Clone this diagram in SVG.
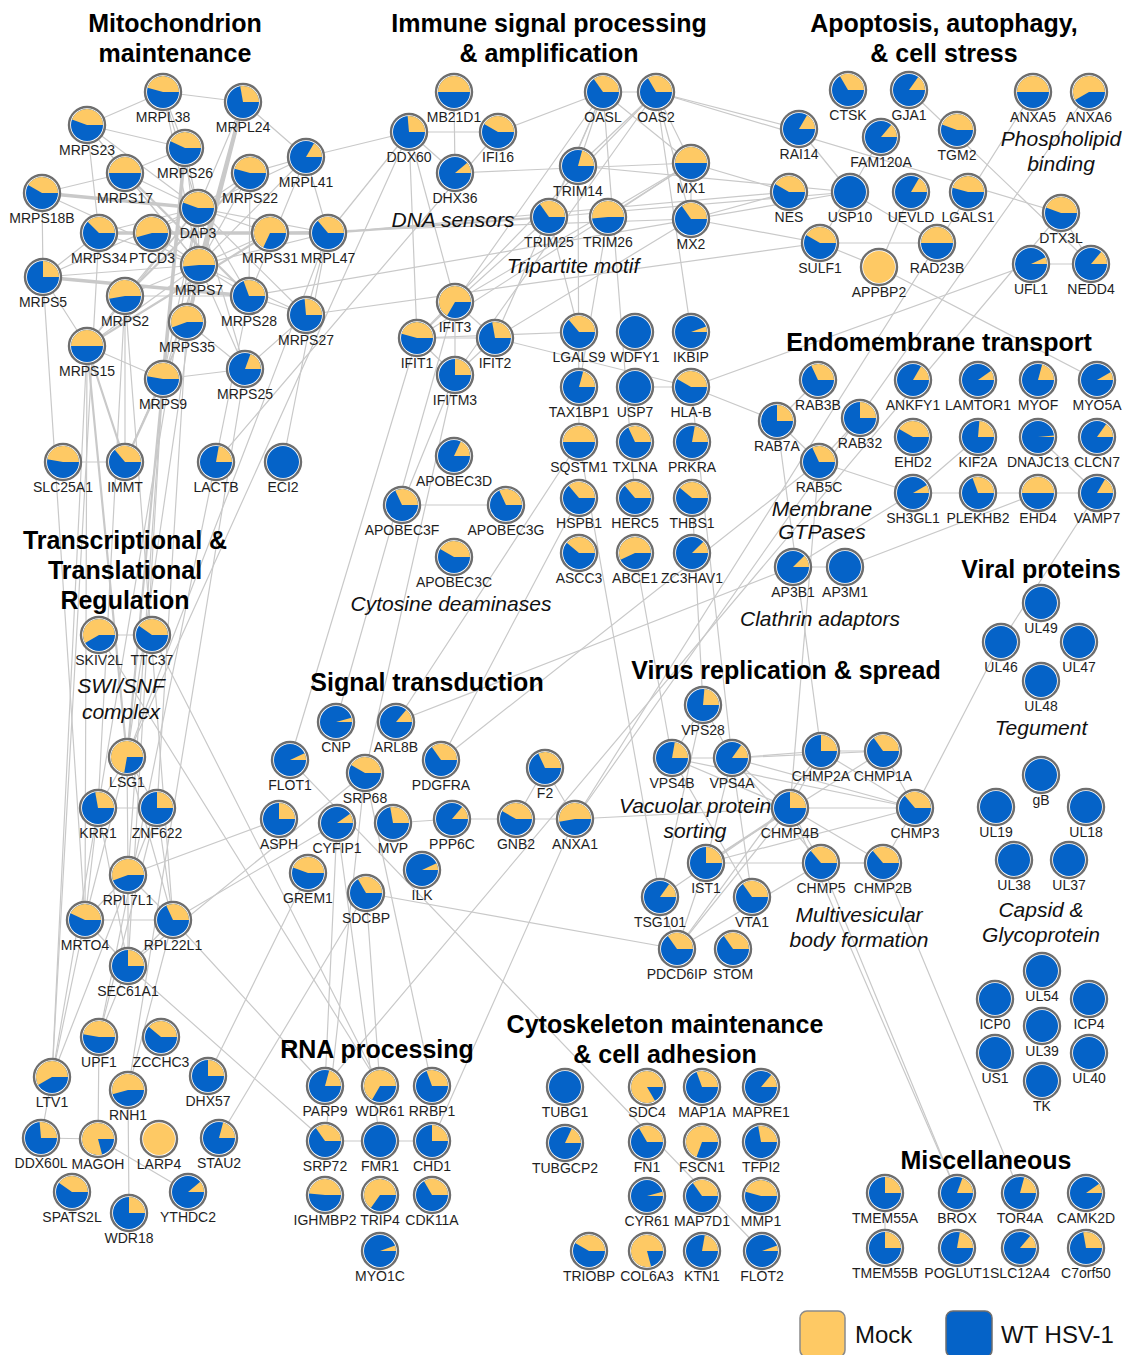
<svg xmlns="http://www.w3.org/2000/svg" width="1124" height="1355" viewBox="0 0 1124 1355">
<style>
.r{fill:#fff;stroke:#6e6e6e;stroke-width:2.4}
.w{fill:#0563c8}
.m{fill:#fec964}
#nodes text{font-family:"Liberation Sans",Arial,sans-serif;font-size:14px;fill:#1e1e1e;text-anchor:middle}
.t{font-family:"Liberation Sans",Arial,sans-serif;font-size:25px;font-weight:bold;fill:#000;text-anchor:middle}
.s{font-family:"Liberation Sans",Arial,sans-serif;font-size:21px;font-style:italic;fill:#111;text-anchor:middle}
.lg{font-family:"Liberation Sans",Arial,sans-serif;font-size:24px;fill:#111}
</style>
<rect width="1124" height="1355" fill="#fff"/>
<g id="connectors" fill="none" stroke="#c9c9c9" stroke-width="1.2" stroke-linecap="round">
<path d="M198 208 163 92"/><path d="M198 208 243 102"/><path d="M198 208 87 125"/><path d="M198 208 185 148"/><path d="M198 208 125 173"/><path d="M198 208 306 157"/><path d="M198 208 250 173"/><path d="M198 208 99 233"/><path d="M198 208 152 233"/><path d="M198 208 270 233"/><path d="M198 208 328 233"/><path d="M198 208 199 265"/><path d="M198 208 43 277"/><path d="M198 208 125 296"/><path d="M198 208 249 296"/><path d="M198 208 306 315"/><path d="M198 208 187 322"/><path d="M198 208 87 346"/><path d="M198 208 163 379"/><path d="M198 208 245 369"/>
<path d="M199 265 163 92"/><path d="M199 265 87 125"/><path d="M199 265 185 148"/><path d="M199 265 125 173"/><path d="M199 265 306 157"/><path d="M199 265 250 173"/><path d="M199 265 42 193"/><path d="M199 265 99 233"/><path d="M199 265 152 233"/><path d="M199 265 270 233"/><path d="M199 265 328 233"/><path d="M199 265 43 277"/><path d="M199 265 125 296"/><path d="M199 265 249 296"/><path d="M199 265 306 315"/><path d="M199 265 187 322"/><path d="M199 265 87 346"/><path d="M199 265 163 379"/><path d="M199 265 245 369"/>
<path d="M163 92 243 102"/><path d="M87 125 125 173"/><path d="M42 193 43 277"/><path d="M42 193 125 173"/><path d="M306 157 328 233"/><path d="M306 157 250 173"/><path d="M125 296 87 346"/><path d="M43 277 87 346"/><path d="M249 296 306 315"/><path d="M245 369 163 379"/><path d="M187 322 245 369"/><path d="M249 296 250 173"/><path d="M185 148 125 173"/><path d="M87 125 163 92"/><path d="M87 125 99 233"/><path d="M243 102 306 157"/><path d="M43 277 99 233"/><path d="M306 315 245 369"/><path d="M125 296 249 296"/><path d="M163 92 185 148"/><path d="M306 157 249 296"/><path d="M87 125 185 148"/><path d="M87 346 163 379"/><path d="M328 233 306 315"/><path d="M187 322 163 379"/>
<path d="M125 296 125 462"/><path d="M187 322 125 462"/><path d="M125 296 98 808"/><path d="M187 322 157 808"/><path d="M163 379 128 875"/><path d="M87 346 85 920"/><path d="M125 296 173 920"/><path d="M163 379 128 966"/><path d="M87 346 52 1077"/><path d="M199 265 127 757"/><path d="M198 208 98 808"/><path d="M43 277 85 920"/><path d="M99 233 52 1077"/><path d="M249 296 99 1037"/><path d="M245 369 128 1090"/><path d="M125 462 63 462"/>
<path d="M127 757 98 808"/><path d="M127 757 157 808"/><path d="M127 757 128 875"/><path d="M127 757 85 920"/><path d="M127 757 173 920"/><path d="M98 808 157 808"/><path d="M98 808 85 920"/><path d="M157 808 173 920"/><path d="M128 875 85 920"/><path d="M128 875 173 920"/><path d="M85 920 173 920"/><path d="M85 920 128 966"/><path d="M173 920 128 966"/><path d="M128 875 128 966"/><path d="M85 920 52 1077"/><path d="M98 808 52 1077"/><path d="M157 808 52 1077"/><path d="M128 966 99 1037"/><path d="M173 920 128 1090"/><path d="M128 1090 129 1213"/><path d="M99 1037 98 1139"/><path d="M41 1138 98 1139"/><path d="M98 1139 188 1192"/><path d="M52 1077 41 1138"/><path d="M157 808 99 1037"/><path d="M98 808 128 966"/>
<path d="M128 966 325 1141"/><path d="M173 920 325 1086"/><path d="M128 875 279 819"/><path d="M128 966 365 773"/><path d="M173 920 337 823"/><path d="M208 1076 308 873"/><path d="M219 1138 366 893"/><path d="M152 635 380 1086"/><path d="M99 635 380 1086"/><path d="M99 635 152 635"/><path d="M328 233 127 757"/><path d="M409 132 127 757"/><path d="M216 462 498 132"/><path d="M283 462 328 233"/>
<path d="M454 92 455 173"/><path d="M409 132 498 132"/><path d="M409 132 455 173"/><path d="M498 132 603 92"/><path d="M455 173 691 163"/><path d="M603 92 656 92"/><path d="M603 92 578 166"/><path d="M656 92 578 166"/><path d="M603 92 549 217"/><path d="M656 92 691 163"/><path d="M656 92 691 219"/><path d="M603 92 691 163"/><path d="M608 217 691 163"/><path d="M691 163 691 219"/>
<path d="M417 338 455 302"/><path d="M417 338 495 338"/><path d="M455 302 495 338"/><path d="M417 338 455 375"/><path d="M455 302 455 375"/><path d="M495 338 455 375"/><path d="M417 338 691 163"/><path d="M417 338 656 92"/><path d="M455 302 603 92"/><path d="M455 302 691 163"/><path d="M495 338 603 92"/><path d="M495 338 691 219"/><path d="M455 375 656 92"/><path d="M455 302 549 217"/><path d="M409 132 417 338"/><path d="M409 132 455 302"/><path d="M409 132 328 233"/><path d="M409 132 306 157"/><path d="M417 338 579 332"/><path d="M495 338 691 387"/><path d="M579 332 549 217"/><path d="M579 387 608 217"/><path d="M635 387 691 387"/><path d="M691 332 656 92"/><path d="M635 498 603 92"/><path d="M579 442 578 166"/><path d="M455 375 402 505"/><path d="M417 338 290 760"/><path d="M455 302 336 722"/><path d="M455 375 365 773"/><path d="M402 505 506 505"/>
<path d="M691 163 789 192"/><path d="M691 219 789 192"/><path d="M691 219 820 243"/><path d="M549 217 850 192"/><path d="M656 92 799 129"/><path d="M656 92 1061 213"/><path d="M578 166 850 192"/><path d="M328 233 789 192"/><path d="M306 315 820 243"/><path d="M249 296 850 192"/><path d="M270 233 691 219"/>
<path d="M799 129 850 192"/><path d="M850 192 937 243"/><path d="M820 243 937 243"/><path d="M820 243 879 267"/><path d="M850 192 820 243"/><path d="M911 192 879 267"/><path d="M909 90 1091 264"/><path d="M879 267 1097 380"/><path d="M1031 264 1091 264"/><path d="M1061 213 1091 264"/><path d="M1033 92 575 819"/><path d="M1089 92 575 819"/><path d="M881 137 850 192"/><path d="M1031 264 691 387"/>
<path d="M818 380 777 421"/><path d="M777 421 819 462"/><path d="M860 418 819 462"/><path d="M819 462 913 493"/><path d="M913 493 978 493"/><path d="M978 493 1038 493"/><path d="M1038 493 1097 493"/><path d="M913 493 978 437"/><path d="M1038 437 1097 493"/><path d="M793 567 845 567"/><path d="M845 567 1038 493"/><path d="M793 567 913 493"/><path d="M777 421 821 751"/><path d="M819 462 790 808"/><path d="M1097 493 1001 642"/><path d="M1001 642 915 808"/><path d="M777 421 691 387"/><path d="M396 722 793 567"/><path d="M441 760 819 462"/>
<path d="M703 705 672 758"/><path d="M703 705 732 758"/><path d="M672 758 732 758"/><path d="M732 758 821 751"/><path d="M732 758 883 751"/><path d="M732 758 790 808"/><path d="M732 758 915 808"/><path d="M672 758 790 808"/><path d="M672 758 915 808"/><path d="M821 751 883 751"/><path d="M790 808 915 808"/><path d="M821 863 883 863"/><path d="M706 863 883 751"/><path d="M706 863 790 808"/><path d="M677 949 790 808"/><path d="M677 949 660 897"/><path d="M660 897 703 705"/><path d="M752 897 732 758"/><path d="M752 897 672 758"/><path d="M706 863 732 758"/><path d="M790 808 821 751"/><path d="M821 751 915 808"/><path d="M677 949 821 751"/><path d="M706 863 883 863"/><path d="M821 863 732 758"/><path d="M915 808 883 863"/><path d="M883 751 915 808"/><path d="M790 808 883 863"/><path d="M790 808 821 863"/><path d="M706 863 915 808"/><path d="M677 949 821 863"/><path d="M677 949 706 863"/><path d="M660 897 790 808"/>
<path d="M575 819 790 808"/><path d="M790 808 957 1193"/><path d="M821 863 957 1193"/><path d="M883 863 1020 1193"/><path d="M885 1193 885 1248"/><path d="M366 893 677 949"/><path d="M660 897 579 442"/><path d="M672 758 635 553"/><path d="M691 387 732 758"/><path d="M692 498 703 705"/><path d="M579 498 441 760"/><path d="M579 442 396 722"/>
<path d="M545 768 575 819"/><path d="M545 768 516 819"/><path d="M393 823 452 819"/><path d="M452 819 516 819"/><path d="M516 819 575 819"/><path d="M365 773 325 1141"/><path d="M337 823 380 1141"/><path d="M290 760 762 1251"/><path d="M325 1141 380 1141"/><path d="M380 1141 432 1141"/><path d="M325 1086 1061 213"/><path d="M432 1141 575 819"/><path d="M365 773 432 1086"/><path d="M366 893 380 1086"/><path d="M337 823 325 1086"/>
<g stroke-width="2.2"><path d="M125 173 249 296"/><path d="M250 173 125 296"/><path d="M328 233 549 217"/><path d="M270 233 87 346"/><path d="M87 346 125 462"/><path d="M163 379 125 462"/><path d="M87 346 127 757"/><path d="M163 379 127 757"/></g>
<g stroke-width="3.6"><path d="M243 102 199 265"/><path d="M185 148 163 379"/><path d="M99 233 328 233"/><path d="M42 193 198 208"/><path d="M43 277 249 296"/><path d="M243 102 187 322"/></g>
</g>
<g id="titles">
<text class="t" x="175" y="32">Mitochondrion</text><text class="t" x="175" y="62">maintenance</text>
<text class="t" x="549" y="32">Immune signal processing</text><text class="t" x="549" y="62">&amp; amplification</text>
<text class="t" x="944" y="32">Apoptosis, autophagy,</text><text class="t" x="944" y="62">&amp; cell stress</text>
<text class="t" x="939" y="351">Endomembrane transport</text>
<text class="t" x="125" y="549">Transcriptional &amp;</text><text class="t" x="125" y="579">Translational</text><text class="t" x="125" y="609">Regulation</text>
<text class="t" x="427" y="691">Signal transduction</text>
<text class="t" x="786" y="679">Virus replication &amp; spread</text>
<text class="t" x="1041" y="578">Viral proteins</text>
<text class="t" x="377" y="1058">RNA processing</text>
<text class="t" x="665" y="1033">Cytoskeleton maintenance</text><text class="t" x="665" y="1063">&amp; cell adhesion</text>
<text class="t" x="986" y="1169">Miscellaneous</text>
<text class="s" x="453" y="227">DNA sensors</text>
<text class="s" x="573" y="273">Tripartite motif</text>
<text class="s" x="1061" y="146">Phospholipid</text><text class="s" x="1061" y="171">binding</text>
<text class="s" x="451" y="611">Cytosine deaminases</text>
<text class="s" x="121" y="693">SWI/SNF</text><text class="s" x="121" y="719">complex</text>
<text class="s" x="822" y="516">Membrane</text><text class="s" x="822" y="539">GTPases</text>
<text class="s" x="820" y="626">Clathrin adaptors</text>
<text class="s" x="1041" y="735">Tegument</text>
<text class="s" x="695" y="813">Vacuolar protein</text><text class="s" x="695" y="838">sorting</text>
<text class="s" x="859" y="922">Multivesicular</text><text class="s" x="859" y="947">body formation</text>
<text class="s" x="1041" y="917">Capsid &amp;</text><text class="s" x="1041" y="942">Glycoprotein</text>
</g>
<g id="nodes">
<g id="n-MRPL38" transform="translate(163 92)"><circle class="r" r="18"/><circle class="w" r="16"/><path class="m" d="M0 0H16A16 16 0 0 0-15.45-4.14Z"/><text y="30">MRPL38</text></g>
<g id="n-MRPL24" transform="translate(243 102)"><circle class="r" r="18"/><circle class="w" r="16"/><path class="m" d="M0 0H16A16 16 0 0 0-2.78-15.76Z"/><text y="30">MRPL24</text></g>
<g id="n-MRPS23" transform="translate(87 125)"><circle class="r" r="18"/><circle class="w" r="16"/><path class="m" d="M0 0H16A16 16 0 0 0-15.04-5.47Z"/><text y="30">MRPS23</text></g>
<g id="n-MRPS26" transform="translate(185 148)"><circle class="r" r="18"/><circle class="w" r="16"/><path class="m" d="M0 0H16A16 16 0 0 0-14.5-6.76Z"/><text y="30">MRPS26</text></g>
<g id="n-MRPS17" transform="translate(125 173)"><circle class="r" r="18"/><circle class="w" r="16"/><path class="m" d="M0 0H16A16 16 0 0 0-16 0Z"/><text y="30">MRPS17</text></g>
<g id="n-MRPL41" transform="translate(306 157)"><circle class="r" r="18"/><circle class="w" r="16"/><path class="m" d="M0 0H16A16 16 0 0 0 8-13.86Z"/><text y="30">MRPL41</text></g>
<g id="n-MRPS22" transform="translate(250 173)"><circle class="r" r="18"/><circle class="w" r="16"/><path class="m" d="M0 0H16A16 16 0 0 0-15.45-4.14Z"/><text y="30">MRPS22</text></g>
<g id="n-MRPS18B" transform="translate(42 193)"><circle class="r" r="18"/><circle class="w" r="16"/><path class="m" d="M0 0H16A16 16 0 0 0-13.86-8Z"/><text y="30">MRPS18B</text></g>
<g id="n-DAP3" transform="translate(198 208)"><circle class="r" r="18"/><circle class="w" r="16"/><path class="m" d="M0 0H16A16 16 0 0 0-15.04-5.47Z"/><text y="30">DAP3</text></g>
<g id="n-MRPS34" transform="translate(99 233)"><circle class="r" r="18"/><circle class="w" r="16"/><path class="m" d="M0 0H16A16 16 0 0 0-11.31-11.31Z"/><text y="30">MRPS34</text></g>
<g id="n-PTCD3" transform="translate(152 233)"><circle class="r" r="18"/><circle class="w" r="16"/><path class="m" d="M0 0H16A16 16 0 1 0-15.45 4.14Z"/><text y="30">PTCD3</text></g>
<g id="n-MRPS31" transform="translate(270 233)"><circle class="r" r="18"/><circle class="w" r="16"/><path class="m" d="M0 0H16A16 16 0 1 0-6.76 14.5Z"/><text y="30">MRPS31</text></g>
<g id="n-MRPL47" transform="translate(328 233)"><circle class="r" r="18"/><circle class="w" r="16"/><path class="m" d="M0 0H16A16 16 0 0 0-10.28-12.26Z"/><text y="30">MRPL47</text></g>
<g id="n-MRPS7" transform="translate(199 265)"><circle class="r" r="18"/><circle class="w" r="16"/><path class="m" d="M0 0H16A16 16 0 1 0-15.94 1.39Z"/><text y="30">MRPS7</text></g>
<g id="n-MRPS5" transform="translate(43 277)"><circle class="r" r="18"/><circle class="w" r="16"/><path class="m" d="M0 0H16A16 16 0 0 0 0-16Z"/><text y="30">MRPS5</text></g>
<g id="n-MRPS2" transform="translate(125 296)"><circle class="r" r="18"/><circle class="w" r="16"/><path class="m" d="M0 0H16A16 16 0 1 0-15.76 2.78Z"/><text y="30">MRPS2</text></g>
<g id="n-MRPS28" transform="translate(249 296)"><circle class="r" r="18"/><circle class="w" r="16"/><path class="m" d="M0 0H16A16 16 0 0 0-5.47-15.04Z"/><text y="30">MRPS28</text></g>
<g id="n-MRPS27" transform="translate(306 315)"><circle class="r" r="18"/><circle class="w" r="16"/><path class="m" d="M0 0H16A16 16 0 0 0-1.39-15.94Z"/><text y="30">MRPS27</text></g>
<g id="n-MRPS35" transform="translate(187 322)"><circle class="r" r="18"/><circle class="w" r="16"/><path class="m" d="M0 0H16A16 16 0 1 0-15.04 5.47Z"/><text y="30">MRPS35</text></g>
<g id="n-MRPS15" transform="translate(87 346)"><circle class="r" r="18"/><circle class="w" r="16"/><path class="m" d="M0 0H16A16 16 0 0 0-16 0Z"/><text y="30">MRPS15</text></g>
<g id="n-MRPS9" transform="translate(163 379)"><circle class="r" r="18"/><circle class="w" r="16"/><path class="m" d="M0 0H16A16 16 0 0 0-15.76-2.78Z"/><text y="30">MRPS9</text></g>
<g id="n-MRPS25" transform="translate(245 369)"><circle class="r" r="18"/><circle class="w" r="16"/><path class="m" d="M0 0H16A16 16 0 0 0 5.47-15.04Z"/><text y="30">MRPS25</text></g>
<g id="n-SLC25A1" transform="translate(63 462)"><circle class="r" r="18"/><circle class="w" r="16"/><path class="m" d="M0 0H16A16 16 0 0 0-15.76-2.78Z"/><text y="30">SLC25A1</text></g>
<g id="n-IMMT" transform="translate(125 462)"><circle class="r" r="18"/><circle class="w" r="16"/><path class="m" d="M0 0H16A16 16 0 0 0-10.28-12.26Z"/><text y="30">IMMT</text></g>
<g id="n-LACTB" transform="translate(216 462)"><circle class="r" r="18"/><circle class="w" r="16"/><path class="m" d="M0 0H16A16 16 0 0 0 2.78-15.76Z"/><text y="30">LACTB</text></g>
<g id="n-ECI2" transform="translate(283 462)"><circle class="r" r="18"/><circle class="w" r="16"/><text y="30">ECI2</text></g>
<g id="n-SKIV2L" transform="translate(99 635)"><circle class="r" r="18"/><circle class="w" r="16"/><path class="m" d="M0 0H16A16 16 0 1 0-13.86 8Z"/><text y="30">SKIV2L</text></g>
<g id="n-TTC37" transform="translate(152 635)"><circle class="r" r="18"/><circle class="w" r="16"/><path class="m" d="M0 0H16A16 16 0 0 0-13.11-9.18Z"/><text y="30">TTC37</text></g>
<g id="n-LSG1" transform="translate(127 757)"><circle class="r" r="18"/><circle class="w" r="16"/><path class="m" d="M0 0H16A16 16 0 1 0-2.78 15.76Z"/><text y="30">LSG1</text></g>
<g id="n-KRR1" transform="translate(98 808)"><circle class="r" r="18"/><circle class="w" r="16"/><path class="m" d="M0 0H16A16 16 0 0 0-2.78-15.76Z"/><text y="30">KRR1</text></g>
<g id="n-ZNF622" transform="translate(157 808)"><circle class="r" r="18"/><circle class="w" r="16"/><path class="m" d="M0 0H16A16 16 0 0 0 0-16Z"/><text y="30">ZNF622</text></g>
<g id="n-RPL7L1" transform="translate(128 875)"><circle class="r" r="18"/><circle class="w" r="16"/><path class="m" d="M0 0H16A16 16 0 1 0-15.04 5.47Z"/><text y="30">RPL7L1</text></g>
<g id="n-MRTO4" transform="translate(85 920)"><circle class="r" r="18"/><circle class="w" r="16"/><path class="m" d="M0 0H16A16 16 0 0 0-14.5-6.76Z"/><text y="30">MRTO4</text></g>
<g id="n-RPL22L1" transform="translate(173 920)"><circle class="r" r="18"/><circle class="w" r="16"/><path class="m" d="M0 0H16A16 16 0 0 0-6.76-14.5Z"/><text y="30">RPL22L1</text></g>
<g id="n-SEC61A1" transform="translate(128 966)"><circle class="r" r="18"/><circle class="w" r="16"/><path class="m" d="M0 0H16A16 16 0 0 0 0-16Z"/><text y="30">SEC61A1</text></g>
<g id="n-UPF1" transform="translate(99 1037)"><circle class="r" r="18"/><circle class="w" r="16"/><path class="m" d="M0 0H16A16 16 0 0 0-15.76-2.78Z"/><text y="30">UPF1</text></g>
<g id="n-ZCCHC3" transform="translate(161 1037)"><circle class="r" r="18"/><circle class="w" r="16"/><path class="m" d="M0 0H16A16 16 0 0 0-12.26-10.28Z"/><text y="30">ZCCHC3</text></g>
<g id="n-LTV1" transform="translate(52 1077)"><circle class="r" r="18"/><circle class="w" r="16"/><path class="m" d="M0 0H16A16 16 0 1 0-13.86 8Z"/><text y="30">LTV1</text></g>
<g id="n-RNH1" transform="translate(128 1090)"><circle class="r" r="18"/><circle class="w" r="16"/><path class="m" d="M0 0H16A16 16 0 1 0-15.45 4.14Z"/><text y="30">RNH1</text></g>
<g id="n-DHX57" transform="translate(208 1076)"><circle class="r" r="18"/><circle class="w" r="16"/><path class="m" d="M0 0H16A16 16 0 0 0 0-16Z"/><text y="30">DHX57</text></g>
<g id="n-DDX60L" transform="translate(41 1138)"><circle class="r" r="18"/><circle class="w" r="16"/><path class="m" d="M0 0H16A16 16 0 0 0-1.39-15.94Z"/><text y="30">DDX60L</text></g>
<g id="n-MAGOH" transform="translate(98 1139)"><circle class="r" r="18"/><circle class="w" r="16"/><path class="m" d="M0 0H16A16 16 0 1 0 4.14 15.45Z"/><text y="30">MAGOH</text></g>
<g id="n-LARP4" transform="translate(159 1139)"><circle class="r" r="18"/><circle class="m" r="16"/><text y="30">LARP4</text></g>
<g id="n-STAU2" transform="translate(219 1138)"><circle class="r" r="18"/><circle class="w" r="16"/><path class="m" d="M0 0H16A16 16 0 0 0 4.14-15.45Z"/><text y="30">STAU2</text></g>
<g id="n-SPATS2L" transform="translate(72 1192)"><circle class="r" r="18"/><circle class="w" r="16"/><path class="m" d="M0 0H16A16 16 0 0 0-13.11-9.18Z"/><text y="30">SPATS2L</text></g>
<g id="n-YTHDC2" transform="translate(188 1192)"><circle class="r" r="18"/><circle class="w" r="16"/><path class="m" d="M0 0H16A16 16 0 0 0 12.26-10.28Z"/><text y="30">YTHDC2</text></g>
<g id="n-WDR18" transform="translate(129 1213)"><circle class="r" r="18"/><circle class="w" r="16"/><path class="m" d="M0 0H16A16 16 0 0 0 0-16Z"/><text y="30">WDR18</text></g>
<g id="n-MB21D1" transform="translate(454 92)"><circle class="r" r="18"/><circle class="w" r="16"/><path class="m" d="M0 0H16A16 16 0 0 0-16 0Z"/><text y="30">MB21D1</text></g>
<g id="n-DDX60" transform="translate(409 132)"><circle class="r" r="18"/><circle class="w" r="16"/><path class="m" d="M0 0H16A16 16 0 0 0-1.39-15.94Z"/><text y="30">DDX60</text></g>
<g id="n-IFI16" transform="translate(498 132)"><circle class="r" r="18"/><circle class="w" r="16"/><path class="m" d="M0 0H16A16 16 0 0 0-13.86-8Z"/><text y="30">IFI16</text></g>
<g id="n-OASL" transform="translate(603 92)"><circle class="r" r="18"/><circle class="w" r="16"/><path class="m" d="M0 0H16A16 16 0 0 0-9.18-13.11Z"/><text y="30">OASL</text></g>
<g id="n-OAS2" transform="translate(656 92)"><circle class="r" r="18"/><circle class="w" r="16"/><path class="m" d="M0 0H16A16 16 0 0 0-8-13.86Z"/><text y="30">OAS2</text></g>
<g id="n-DHX36" transform="translate(455 173)"><circle class="r" r="18"/><circle class="w" r="16"/><path class="m" d="M0 0H16A16 16 0 0 0 12.26-10.28Z"/><text y="30">DHX36</text></g>
<g id="n-TRIM14" transform="translate(578 166)"><circle class="r" r="18"/><circle class="w" r="16"/><path class="m" d="M0 0H16A16 16 0 0 0 4.14-15.45Z"/><text y="30">TRIM14</text></g>
<g id="n-MX1" transform="translate(691 163)"><circle class="r" r="18"/><circle class="w" r="16"/><path class="m" d="M0 0H16A16 16 0 0 0-16 0Z"/><text y="30">MX1</text></g>
<g id="n-TRIM25" transform="translate(549 217)"><circle class="r" r="18"/><circle class="w" r="16"/><path class="m" d="M0 0H16A16 16 0 0 0-9.18-13.11Z"/><text y="30">TRIM25</text></g>
<g id="n-TRIM26" transform="translate(608 217)"><circle class="r" r="18"/><circle class="w" r="16"/><path class="m" d="M0 0H16A16 16 0 1 0-15.94 1.39Z"/><text y="30">TRIM26</text></g>
<g id="n-MX2" transform="translate(691 219)"><circle class="r" r="18"/><circle class="w" r="16"/><path class="m" d="M0 0H16A16 16 0 0 0-9.18-13.11Z"/><text y="30">MX2</text></g>
<g id="n-IFIT3" transform="translate(455 302)"><circle class="r" r="18"/><circle class="w" r="16"/><path class="m" d="M0 0H16A16 16 0 1 0-8 13.86Z"/><text y="30">IFIT3</text></g>
<g id="n-IFIT1" transform="translate(417 338)"><circle class="r" r="18"/><circle class="w" r="16"/><path class="m" d="M0 0H16A16 16 0 0 0-15.45-4.14Z"/><text y="30">IFIT1</text></g>
<g id="n-IFIT2" transform="translate(495 338)"><circle class="r" r="18"/><circle class="w" r="16"/><path class="m" d="M0 0H16A16 16 0 0 0-2.78-15.76Z"/><text y="30">IFIT2</text></g>
<g id="n-IFITM3" transform="translate(455 375)"><circle class="r" r="18"/><circle class="w" r="16"/><path class="m" d="M0 0H16A16 16 0 0 0 0-16Z"/><text y="30">IFITM3</text></g>
<g id="n-LGALS9" transform="translate(579 332)"><circle class="r" r="18"/><circle class="w" r="16"/><path class="m" d="M0 0H16A16 16 0 0 0-10.28-12.26Z"/><text y="30">LGALS9</text></g>
<g id="n-WDFY1" transform="translate(635 332)"><circle class="r" r="18"/><circle class="w" r="16"/><text y="30">WDFY1</text></g>
<g id="n-IKBIP" transform="translate(691 332)"><circle class="r" r="18"/><circle class="w" r="16"/><path class="m" d="M0 0H16A16 16 0 0 0 15.04-5.47Z"/><text y="30">IKBIP</text></g>
<g id="n-TAX1BP1" transform="translate(579 387)"><circle class="r" r="18"/><circle class="w" r="16"/><path class="m" d="M0 0H16A16 16 0 0 0 4.14-15.45Z"/><text y="30">TAX1BP1</text></g>
<g id="n-USP7" transform="translate(635 387)"><circle class="r" r="18"/><circle class="w" r="16"/><text y="30">USP7</text></g>
<g id="n-HLA-B" transform="translate(691 387)"><circle class="r" r="18"/><circle class="w" r="16"/><path class="m" d="M0 0H16A16 16 0 0 0-13.86-8Z"/><text y="30">HLA-B</text></g>
<g id="n-SQSTM1" transform="translate(579 442)"><circle class="r" r="18"/><circle class="w" r="16"/><path class="m" d="M0 0H16A16 16 0 0 0-16 0Z"/><text y="30">SQSTM1</text></g>
<g id="n-TXLNA" transform="translate(635 442)"><circle class="r" r="18"/><circle class="w" r="16"/><path class="m" d="M0 0H16A16 16 0 0 0-6.76-14.5Z"/><text y="30">TXLNA</text></g>
<g id="n-PRKRA" transform="translate(692 442)"><circle class="r" r="18"/><circle class="w" r="16"/><path class="m" d="M0 0H16A16 16 0 0 0 2.78-15.76Z"/><text y="30">PRKRA</text></g>
<g id="n-HSPB1" transform="translate(579 498)"><circle class="r" r="18"/><circle class="w" r="16"/><path class="m" d="M0 0H16A16 16 0 0 0-10.28-12.26Z"/><text y="30">HSPB1</text></g>
<g id="n-HERC5" transform="translate(635 498)"><circle class="r" r="18"/><circle class="w" r="16"/><path class="m" d="M0 0H16A16 16 0 0 0-10.28-12.26Z"/><text y="30">HERC5</text></g>
<g id="n-THBS1" transform="translate(692 498)"><circle class="r" r="18"/><circle class="w" r="16"/><path class="m" d="M0 0H16A16 16 0 0 0-12.26-10.28Z"/><text y="30">THBS1</text></g>
<g id="n-ASCC3" transform="translate(579 553)"><circle class="r" r="18"/><circle class="w" r="16"/><path class="m" d="M0 0H16A16 16 0 0 0-12.26-10.28Z"/><text y="30">ASCC3</text></g>
<g id="n-ABCE1" transform="translate(635 553)"><circle class="r" r="18"/><circle class="w" r="16"/><path class="m" d="M0 0H16A16 16 0 1 0-14.5 6.76Z"/><text y="30">ABCE1</text></g>
<g id="n-ZC3HAV1" transform="translate(692 553)"><circle class="r" r="18"/><circle class="w" r="16"/><path class="m" d="M0 0H16A16 16 0 0 0 11.31-11.31Z"/><text y="30">ZC3HAV1</text></g>
<g id="n-APOBEC3D" transform="translate(454 456)"><circle class="r" r="18"/><circle class="w" r="16"/><path class="m" d="M0 0H16A16 16 0 0 0 6.76-14.5Z"/><text y="30">APOBEC3D</text></g>
<g id="n-APOBEC3F" transform="translate(402 505)"><circle class="r" r="18"/><circle class="w" r="16"/><path class="m" d="M0 0H16A16 16 0 0 0-6.76-14.5Z"/><text y="30">APOBEC3F</text></g>
<g id="n-APOBEC3G" transform="translate(506 505)"><circle class="r" r="18"/><circle class="w" r="16"/><path class="m" d="M0 0H16A16 16 0 0 0-6.76-14.5Z"/><text y="30">APOBEC3G</text></g>
<g id="n-APOBEC3C" transform="translate(454 557)"><circle class="r" r="18"/><circle class="w" r="16"/><path class="m" d="M0 0H16A16 16 0 0 0-13.86-8Z"/><text y="30">APOBEC3C</text></g>
<g id="n-CTSK" transform="translate(848 90)"><circle class="r" r="18"/><circle class="w" r="16"/><path class="m" d="M0 0H16A16 16 0 0 0-8-13.86Z"/><text y="30">CTSK</text></g>
<g id="n-GJA1" transform="translate(909 90)"><circle class="r" r="18"/><circle class="w" r="16"/><path class="m" d="M0 0H16A16 16 0 0 0 9.18-13.11Z"/><text y="30">GJA1</text></g>
<g id="n-RAI14" transform="translate(799 129)"><circle class="r" r="18"/><circle class="w" r="16"/><path class="m" d="M0 0H16A16 16 0 0 0 8-13.86Z"/><text y="30">RAI14</text></g>
<g id="n-FAM120A" transform="translate(881 137)"><circle class="r" r="18"/><circle class="w" r="16"/><path class="m" d="M0 0H16A16 16 0 0 0 10.28-12.26Z"/><text y="30">FAM120A</text></g>
<g id="n-TGM2" transform="translate(957 130)"><circle class="r" r="18"/><circle class="w" r="16"/><path class="m" d="M0 0H16A16 16 0 0 0-15.04-5.47Z"/><text y="30">TGM2</text></g>
<g id="n-ANXA5" transform="translate(1033 92)"><circle class="r" r="18"/><circle class="w" r="16"/><path class="m" d="M0 0H16A16 16 0 0 0-16 0Z"/><text y="30">ANXA5</text></g>
<g id="n-ANXA6" transform="translate(1089 92)"><circle class="r" r="18"/><circle class="w" r="16"/><path class="m" d="M0 0H16A16 16 0 1 0-13.86 8Z"/><text y="30">ANXA6</text></g>
<g id="n-NES" transform="translate(789 192)"><circle class="r" r="18"/><circle class="w" r="16"/><path class="m" d="M0 0H16A16 16 0 0 0-13.86-8Z"/><text y="30">NES</text></g>
<g id="n-USP10" transform="translate(850 192)"><circle class="r" r="18"/><circle class="w" r="16"/><text y="30">USP10</text></g>
<g id="n-UEVLD" transform="translate(911 192)"><circle class="r" r="18"/><circle class="w" r="16"/><path class="m" d="M0 0H16A16 16 0 0 0 8-13.86Z"/><text y="30">UEVLD</text></g>
<g id="n-LGALS1" transform="translate(968 192)"><circle class="r" r="18"/><circle class="w" r="16"/><path class="m" d="M0 0H16A16 16 0 0 0-15.45-4.14Z"/><text y="30">LGALS1</text></g>
<g id="n-DTX3L" transform="translate(1061 213)"><circle class="r" r="18"/><circle class="w" r="16"/><path class="m" d="M0 0H16A16 16 0 0 0-15.04-5.47Z"/><text y="30">DTX3L</text></g>
<g id="n-SULF1" transform="translate(820 243)"><circle class="r" r="18"/><circle class="w" r="16"/><path class="m" d="M0 0H16A16 16 0 0 0-13.86-8Z"/><text y="30">SULF1</text></g>
<g id="n-APPBP2" transform="translate(879 267)"><circle class="r" r="18"/><circle class="m" r="16"/><text y="30">APPBP2</text></g>
<g id="n-RAD23B" transform="translate(937 243)"><circle class="r" r="18"/><circle class="w" r="16"/><path class="m" d="M0 0H16A16 16 0 0 0-16 0Z"/><text y="30">RAD23B</text></g>
<g id="n-UFL1" transform="translate(1031 264)"><circle class="r" r="18"/><circle class="w" r="16"/><path class="m" d="M0 0H16A16 16 0 0 0 14.5-6.76Z"/><text y="30">UFL1</text></g>
<g id="n-NEDD4" transform="translate(1091 264)"><circle class="r" r="18"/><circle class="w" r="16"/><path class="m" d="M0 0H16A16 16 0 0 0 10.28-12.26Z"/><text y="30">NEDD4</text></g>
<g id="n-RAB3B" transform="translate(818 380)"><circle class="r" r="18"/><circle class="w" r="16"/><path class="m" d="M0 0H16A16 16 0 0 0-6.76-14.5Z"/><text y="30">RAB3B</text></g>
<g id="n-ANKFY1" transform="translate(913 380)"><circle class="r" r="18"/><circle class="w" r="16"/><path class="m" d="M0 0H16A16 16 0 0 0 8-13.86Z"/><text y="30">ANKFY1</text></g>
<g id="n-LAMTOR1" transform="translate(978 380)"><circle class="r" r="18"/><circle class="w" r="16"/><path class="m" d="M0 0H16A16 16 0 0 0 13.11-9.18Z"/><text y="30">LAMTOR1</text></g>
<g id="n-MYOF" transform="translate(1038 380)"><circle class="r" r="18"/><circle class="w" r="16"/><path class="m" d="M0 0H16A16 16 0 0 0 4.14-15.45Z"/><text y="30">MYOF</text></g>
<g id="n-MYO5A" transform="translate(1097 380)"><circle class="r" r="18"/><circle class="w" r="16"/><path class="m" d="M0 0H16A16 16 0 0 0 13.86-8Z"/><text y="30">MYO5A</text></g>
<g id="n-RAB7A" transform="translate(777 421)"><circle class="r" r="18"/><circle class="w" r="16"/><path class="m" d="M0 0H16A16 16 0 0 0 0-16Z"/><text y="30">RAB7A</text></g>
<g id="n-RAB32" transform="translate(860 418)"><circle class="r" r="18"/><circle class="w" r="16"/><path class="m" d="M0 0H16A16 16 0 0 0 0-16Z"/><text y="30">RAB32</text></g>
<g id="n-EHD2" transform="translate(913 437)"><circle class="r" r="18"/><circle class="w" r="16"/><path class="m" d="M0 0H16A16 16 0 0 0-13.86-8Z"/><text y="30">EHD2</text></g>
<g id="n-KIF2A" transform="translate(978 437)"><circle class="r" r="18"/><circle class="w" r="16"/><path class="m" d="M0 0H16A16 16 0 0 0 1.39-15.94Z"/><text y="30">KIF2A</text></g>
<g id="n-DNAJC13" transform="translate(1038 437)"><circle class="r" r="18"/><circle class="w" r="16"/><path class="m" d="M0 0H16A16 16 0 0 0 15.94-1.39Z"/><text y="30">DNAJC13</text></g>
<g id="n-CLCN7" transform="translate(1097 437)"><circle class="r" r="18"/><circle class="w" r="16"/><path class="m" d="M0 0H16A16 16 0 0 0 9.18-13.11Z"/><text y="30">CLCN7</text></g>
<g id="n-RAB5C" transform="translate(819 462)"><circle class="r" r="18"/><circle class="w" r="16"/><path class="m" d="M0 0H16A16 16 0 0 0-6.76-14.5Z"/><text y="30">RAB5C</text></g>
<g id="n-SH3GL1" transform="translate(913 493)"><circle class="r" r="18"/><circle class="w" r="16"/><path class="m" d="M0 0H16A16 16 0 0 0 13.86-8Z"/><text y="30">SH3GL1</text></g>
<g id="n-PLEKHB2" transform="translate(978 493)"><circle class="r" r="18"/><circle class="w" r="16"/><path class="m" d="M0 0H16A16 16 0 0 0-5.47-15.04Z"/><text y="30">PLEKHB2</text></g>
<g id="n-EHD4" transform="translate(1038 493)"><circle class="r" r="18"/><circle class="w" r="16"/><path class="m" d="M0 0H16A16 16 0 0 0-16 0Z"/><text y="30">EHD4</text></g>
<g id="n-VAMP7" transform="translate(1097 493)"><circle class="r" r="18"/><circle class="w" r="16"/><path class="m" d="M0 0H16A16 16 0 0 0 8-13.86Z"/><text y="30">VAMP7</text></g>
<g id="n-AP3B1" transform="translate(793 567)"><circle class="r" r="18"/><circle class="w" r="16"/><path class="m" d="M0 0H16A16 16 0 0 0 11.31-11.31Z"/><text y="30">AP3B1</text></g>
<g id="n-AP3M1" transform="translate(845 567)"><circle class="r" r="18"/><circle class="w" r="16"/><text y="30">AP3M1</text></g>
<g id="n-UL49" transform="translate(1041 603)"><circle class="r" r="18"/><circle class="w" r="16"/><text y="30">UL49</text></g>
<g id="n-UL46" transform="translate(1001 642)"><circle class="r" r="18"/><circle class="w" r="16"/><text y="30">UL46</text></g>
<g id="n-UL47" transform="translate(1079 642)"><circle class="r" r="18"/><circle class="w" r="16"/><text y="30">UL47</text></g>
<g id="n-UL48" transform="translate(1041 681)"><circle class="r" r="18"/><circle class="w" r="16"/><text y="30">UL48</text></g>
<g id="n-gB" transform="translate(1041 775)"><circle class="r" r="18"/><circle class="w" r="16"/><text y="30">gB</text></g>
<g id="n-UL19" transform="translate(996 807)"><circle class="r" r="18"/><circle class="w" r="16"/><text y="30">UL19</text></g>
<g id="n-UL18" transform="translate(1086 807)"><circle class="r" r="18"/><circle class="w" r="16"/><text y="30">UL18</text></g>
<g id="n-UL38" transform="translate(1014 860)"><circle class="r" r="18"/><circle class="w" r="16"/><text y="30">UL38</text></g>
<g id="n-UL37" transform="translate(1069 860)"><circle class="r" r="18"/><circle class="w" r="16"/><text y="30">UL37</text></g>
<g id="n-UL54" transform="translate(1042 971)"><circle class="r" r="18"/><circle class="w" r="16"/><text y="30">UL54</text></g>
<g id="n-ICP0" transform="translate(995 999)"><circle class="r" r="18"/><circle class="w" r="16"/><text y="30">ICP0</text></g>
<g id="n-ICP4" transform="translate(1089 999)"><circle class="r" r="18"/><circle class="w" r="16"/><text y="30">ICP4</text></g>
<g id="n-UL39" transform="translate(1042 1026)"><circle class="r" r="18"/><circle class="w" r="16"/><text y="30">UL39</text></g>
<g id="n-US1" transform="translate(995 1053)"><circle class="r" r="18"/><circle class="w" r="16"/><text y="30">US1</text></g>
<g id="n-UL40" transform="translate(1089 1053)"><circle class="r" r="18"/><circle class="w" r="16"/><text y="30">UL40</text></g>
<g id="n-TK" transform="translate(1042 1081)"><circle class="r" r="18"/><circle class="w" r="16"/><text y="30">TK</text></g>
<g id="n-CNP" transform="translate(336 722)"><circle class="r" r="18"/><circle class="w" r="16"/><path class="m" d="M0 0H16A16 16 0 0 0 15.45-4.14Z"/><text y="30">CNP</text></g>
<g id="n-ARL8B" transform="translate(396 722)"><circle class="r" r="18"/><circle class="w" r="16"/><path class="m" d="M0 0H16A16 16 0 0 0 10.28-12.26Z"/><text y="30">ARL8B</text></g>
<g id="n-FLOT1" transform="translate(290 760)"><circle class="r" r="18"/><circle class="w" r="16"/><path class="m" d="M0 0H16A16 16 0 0 0 14.5-6.76Z"/><text y="30">FLOT1</text></g>
<g id="n-SRP68" transform="translate(365 773)"><circle class="r" r="18"/><circle class="w" r="16"/><path class="m" d="M0 0H16A16 16 0 0 0-13.86-8Z"/><text y="30">SRP68</text></g>
<g id="n-PDGFRA" transform="translate(441 760)"><circle class="r" r="18"/><circle class="w" r="16"/><path class="m" d="M0 0H16A16 16 0 0 0-9.18-13.11Z"/><text y="30">PDGFRA</text></g>
<g id="n-F2" transform="translate(545 768)"><circle class="r" r="18"/><circle class="w" r="16"/><path class="m" d="M0 0H16A16 16 0 0 0-6.76-14.5Z"/><text y="30">F2</text></g>
<g id="n-ASPH" transform="translate(279 819)"><circle class="r" r="18"/><circle class="w" r="16"/><path class="m" d="M0 0H16A16 16 0 0 0 0-16Z"/><text y="30">ASPH</text></g>
<g id="n-CYFIP1" transform="translate(337 823)"><circle class="r" r="18"/><circle class="w" r="16"/><path class="m" d="M0 0H16A16 16 0 0 0 13.11-9.18Z"/><text y="30">CYFIP1</text></g>
<g id="n-MVP" transform="translate(393 823)"><circle class="r" r="18"/><circle class="w" r="16"/><path class="m" d="M0 0H16A16 16 0 0 0-2.78-15.76Z"/><text y="30">MVP</text></g>
<g id="n-PPP6C" transform="translate(452 819)"><circle class="r" r="18"/><circle class="w" r="16"/><path class="m" d="M0 0H16A16 16 0 0 0 10.28-12.26Z"/><text y="30">PPP6C</text></g>
<g id="n-GNB2" transform="translate(516 819)"><circle class="r" r="18"/><circle class="w" r="16"/><path class="m" d="M0 0H16A16 16 0 0 0-13.86-8Z"/><text y="30">GNB2</text></g>
<g id="n-ANXA1" transform="translate(575 819)"><circle class="r" r="18"/><circle class="w" r="16"/><path class="m" d="M0 0H16A16 16 0 1 0-15.76 2.78Z"/><text y="30">ANXA1</text></g>
<g id="n-GREM1" transform="translate(308 873)"><circle class="r" r="18"/><circle class="w" r="16"/><path class="m" d="M0 0H16A16 16 0 0 0-15.04-5.47Z"/><text y="30">GREM1</text></g>
<g id="n-SDCBP" transform="translate(366 893)"><circle class="r" r="18"/><circle class="w" r="16"/><path class="m" d="M0 0H16A16 16 0 0 0-8-13.86Z"/><text y="30">SDCBP</text></g>
<g id="n-ILK" transform="translate(422 870)"><circle class="r" r="18"/><circle class="w" r="16"/><path class="m" d="M0 0H16A16 16 0 0 0 14.5-6.76Z"/><text y="30">ILK</text></g>
<g id="n-VPS28" transform="translate(703 705)"><circle class="r" r="18"/><circle class="w" r="16"/><path class="m" d="M0 0H16A16 16 0 0 0 1.39-15.94Z"/><text y="30">VPS28</text></g>
<g id="n-VPS4B" transform="translate(672 758)"><circle class="r" r="18"/><circle class="w" r="16"/><path class="m" d="M0 0H16A16 16 0 0 0 2.78-15.76Z"/><text y="30">VPS4B</text></g>
<g id="n-VPS4A" transform="translate(732 758)"><circle class="r" r="18"/><circle class="w" r="16"/><path class="m" d="M0 0H16A16 16 0 0 0 9.18-13.11Z"/><text y="30">VPS4A</text></g>
<g id="n-CHMP2A" transform="translate(821 751)"><circle class="r" r="18"/><circle class="w" r="16"/><path class="m" d="M0 0H16A16 16 0 0 0 0-16Z"/><text y="30">CHMP2A</text></g>
<g id="n-CHMP1A" transform="translate(883 751)"><circle class="r" r="18"/><circle class="w" r="16"/><path class="m" d="M0 0H16A16 16 0 0 0-9.18-13.11Z"/><text y="30">CHMP1A</text></g>
<g id="n-CHMP4B" transform="translate(790 808)"><circle class="r" r="18"/><circle class="w" r="16"/><path class="m" d="M0 0H16A16 16 0 0 0 0-16Z"/><text y="30">CHMP4B</text></g>
<g id="n-CHMP3" transform="translate(915 808)"><circle class="r" r="18"/><circle class="w" r="16"/><path class="m" d="M0 0H16A16 16 0 0 0-10.28-12.26Z"/><text y="30">CHMP3</text></g>
<g id="n-IST1" transform="translate(706 863)"><circle class="r" r="18"/><circle class="w" r="16"/><path class="m" d="M0 0H16A16 16 0 0 0 0-16Z"/><text y="30">IST1</text></g>
<g id="n-CHMP5" transform="translate(821 863)"><circle class="r" r="18"/><circle class="w" r="16"/><path class="m" d="M0 0H16A16 16 0 0 0-10.28-12.26Z"/><text y="30">CHMP5</text></g>
<g id="n-CHMP2B" transform="translate(883 863)"><circle class="r" r="18"/><circle class="w" r="16"/><path class="m" d="M0 0H16A16 16 0 0 0-10.28-12.26Z"/><text y="30">CHMP2B</text></g>
<g id="n-TSG101" transform="translate(660 897)"><circle class="r" r="18"/><circle class="w" r="16"/><path class="m" d="M0 0H16A16 16 0 0 0 9.18-13.11Z"/><text y="30">TSG101</text></g>
<g id="n-VTA1" transform="translate(752 897)"><circle class="r" r="18"/><circle class="w" r="16"/><path class="m" d="M0 0H16A16 16 0 0 0-9.18-13.11Z"/><text y="30">VTA1</text></g>
<g id="n-PDCD6IP" transform="translate(677 949)"><circle class="r" r="18"/><circle class="w" r="16"/><path class="m" d="M0 0H16A16 16 0 0 0-9.18-13.11Z"/><text y="30">PDCD6IP</text></g>
<g id="n-STOM" transform="translate(733 949)"><circle class="r" r="18"/><circle class="w" r="16"/><path class="m" d="M0 0H16A16 16 0 0 0-9.18-13.11Z"/><text y="30">STOM</text></g>
<g id="n-PARP9" transform="translate(325 1086)"><circle class="r" r="18"/><circle class="w" r="16"/><path class="m" d="M0 0H16A16 16 0 0 0 4.14-15.45Z"/><text y="30">PARP9</text></g>
<g id="n-WDR61" transform="translate(380 1086)"><circle class="r" r="18"/><circle class="w" r="16"/><path class="m" d="M0 0H16A16 16 0 1 0-8 13.86Z"/><text y="30">WDR61</text></g>
<g id="n-RRBP1" transform="translate(432 1086)"><circle class="r" r="18"/><circle class="w" r="16"/><path class="m" d="M0 0H16A16 16 0 0 0-5.47-15.04Z"/><text y="30">RRBP1</text></g>
<g id="n-SRP72" transform="translate(325 1141)"><circle class="r" r="18"/><circle class="w" r="16"/><path class="m" d="M0 0H16A16 16 0 0 0-9.18-13.11Z"/><text y="30">SRP72</text></g>
<g id="n-FMR1" transform="translate(380 1141)"><circle class="r" r="18"/><circle class="w" r="16"/><text y="30">FMR1</text></g>
<g id="n-CHD1" transform="translate(432 1141)"><circle class="r" r="18"/><circle class="w" r="16"/><path class="m" d="M0 0H16A16 16 0 0 0 0-16Z"/><text y="30">CHD1</text></g>
<g id="n-IGHMBP2" transform="translate(325 1195)"><circle class="r" r="18"/><circle class="w" r="16"/><path class="m" d="M0 0H16A16 16 0 0 0-15.94-1.39Z"/><text y="30">IGHMBP2</text></g>
<g id="n-TRIP4" transform="translate(380 1195)"><circle class="r" r="18"/><circle class="w" r="16"/><path class="m" d="M0 0H16A16 16 0 1 0-9.18 13.11Z"/><text y="30">TRIP4</text></g>
<g id="n-CDK11A" transform="translate(432 1195)"><circle class="r" r="18"/><circle class="w" r="16"/><path class="m" d="M0 0H16A16 16 0 0 0-8-13.86Z"/><text y="30">CDK11A</text></g>
<g id="n-MYO1C" transform="translate(380 1251)"><circle class="r" r="18"/><circle class="w" r="16"/><path class="m" d="M0 0H16A16 16 0 0 0 15.04-5.47Z"/><text y="30">MYO1C</text></g>
<g id="n-TUBG1" transform="translate(565 1087)"><circle class="r" r="18"/><circle class="w" r="16"/><text y="30">TUBG1</text></g>
<g id="n-TUBGCP2" transform="translate(565 1143)"><circle class="r" r="18"/><circle class="w" r="16"/><path class="m" d="M0 0H16A16 16 0 0 0 6.76-14.5Z"/><text y="30">TUBGCP2</text></g>
<g id="n-SDC4" transform="translate(647 1087)"><circle class="r" r="18"/><circle class="w" r="16"/><path class="m" d="M0 0H16A16 16 0 1 0 8 13.86Z"/><text y="30">SDC4</text></g>
<g id="n-MAP1A" transform="translate(702 1087)"><circle class="r" r="18"/><circle class="w" r="16"/><path class="m" d="M0 0H16A16 16 0 0 0-5.47-15.04Z"/><text y="30">MAP1A</text></g>
<g id="n-MAPRE1" transform="translate(761 1087)"><circle class="r" r="18"/><circle class="w" r="16"/><path class="m" d="M0 0H16A16 16 0 0 0 10.28-12.26Z"/><text y="30">MAPRE1</text></g>
<g id="n-FN1" transform="translate(647 1142)"><circle class="r" r="18"/><circle class="w" r="16"/><path class="m" d="M0 0H16A16 16 0 0 0-8-13.86Z"/><text y="30">FN1</text></g>
<g id="n-FSCN1" transform="translate(702 1142)"><circle class="r" r="18"/><circle class="w" r="16"/><path class="m" d="M0 0H16A16 16 0 1 0-5.47 15.04Z"/><text y="30">FSCN1</text></g>
<g id="n-TFPI2" transform="translate(761 1142)"><circle class="r" r="18"/><circle class="w" r="16"/><path class="m" d="M0 0H16A16 16 0 0 0-2.78-15.76Z"/><text y="30">TFPI2</text></g>
<g id="n-CYR61" transform="translate(647 1196)"><circle class="r" r="18"/><circle class="w" r="16"/><path class="m" d="M0 0H16A16 16 0 0 0 15.45-4.14Z"/><text y="30">CYR61</text></g>
<g id="n-MAP7D1" transform="translate(702 1196)"><circle class="r" r="18"/><circle class="w" r="16"/><path class="m" d="M0 0H16A16 16 0 0 0-9.18-13.11Z"/><text y="30">MAP7D1</text></g>
<g id="n-MMP1" transform="translate(761 1196)"><circle class="r" r="18"/><circle class="w" r="16"/><path class="m" d="M0 0H16A16 16 0 0 0-15.45-4.14Z"/><text y="30">MMP1</text></g>
<g id="n-TRIOBP" transform="translate(589 1251)"><circle class="r" r="18"/><circle class="w" r="16"/><path class="m" d="M0 0H16A16 16 0 0 0-13.86-8Z"/><text y="30">TRIOBP</text></g>
<g id="n-COL6A3" transform="translate(647 1251)"><circle class="r" r="18"/><circle class="w" r="16"/><path class="m" d="M0 0H16A16 16 0 1 0 4.14 15.45Z"/><text y="30">COL6A3</text></g>
<g id="n-KTN1" transform="translate(702 1251)"><circle class="r" r="18"/><circle class="w" r="16"/><path class="m" d="M0 0H16A16 16 0 0 0 2.78-15.76Z"/><text y="30">KTN1</text></g>
<g id="n-FLOT2" transform="translate(762 1251)"><circle class="r" r="18"/><circle class="w" r="16"/><path class="m" d="M0 0H16A16 16 0 0 0 15.04-5.47Z"/><text y="30">FLOT2</text></g>
<g id="n-TMEM55A" transform="translate(885 1193)"><circle class="r" r="18"/><circle class="w" r="16"/><path class="m" d="M0 0H16A16 16 0 0 0 0-16Z"/><text y="30">TMEM55A</text></g>
<g id="n-BROX" transform="translate(957 1193)"><circle class="r" r="18"/><circle class="w" r="16"/><path class="m" d="M0 0H16A16 16 0 0 0 5.47-15.04Z"/><text y="30">BROX</text></g>
<g id="n-TOR4A" transform="translate(1020 1193)"><circle class="r" r="18"/><circle class="w" r="16"/><path class="m" d="M0 0H16A16 16 0 0 0 4.14-15.45Z"/><text y="30">TOR4A</text></g>
<g id="n-CAMK2D" transform="translate(1086 1193)"><circle class="r" r="18"/><circle class="w" r="16"/><path class="m" d="M0 0H16A16 16 0 0 0 13.11-9.18Z"/><text y="30">CAMK2D</text></g>
<g id="n-TMEM55B" transform="translate(885 1248)"><circle class="r" r="18"/><circle class="w" r="16"/><path class="m" d="M0 0H16A16 16 0 0 0 0-16Z"/><text y="30">TMEM55B</text></g>
<g id="n-POGLUT1" transform="translate(957 1248)"><circle class="r" r="18"/><circle class="w" r="16"/><path class="m" d="M0 0H16A16 16 0 0 0 2.78-15.76Z"/><text y="30">POGLUT1</text></g>
<g id="n-SLC12A4" transform="translate(1020 1248)"><circle class="r" r="18"/><circle class="w" r="16"/><path class="m" d="M0 0H16A16 16 0 0 0 10.28-12.26Z"/><text y="30">SLC12A4</text></g>
<g id="n-C7orf50" transform="translate(1086 1248)"><circle class="r" r="18"/><circle class="w" r="16"/><path class="m" d="M0 0H16A16 16 0 0 0-2.78-15.76Z"/><text y="30">C7orf50</text></g>
</g>
<g id="legend">
<rect x="800" y="1311" width="45" height="46" rx="7" fill="#fec964" stroke="#8a8a8a" stroke-width="1.5"/>
<text class="lg" x="855" y="1343">Mock</text>
<rect x="946" y="1311" width="46" height="46" rx="7" fill="#0563c8" stroke="#6e6e6e" stroke-width="1.5"/>
<text class="lg" x="1001" y="1343">WT HSV-1</text>
</g>
</svg>
